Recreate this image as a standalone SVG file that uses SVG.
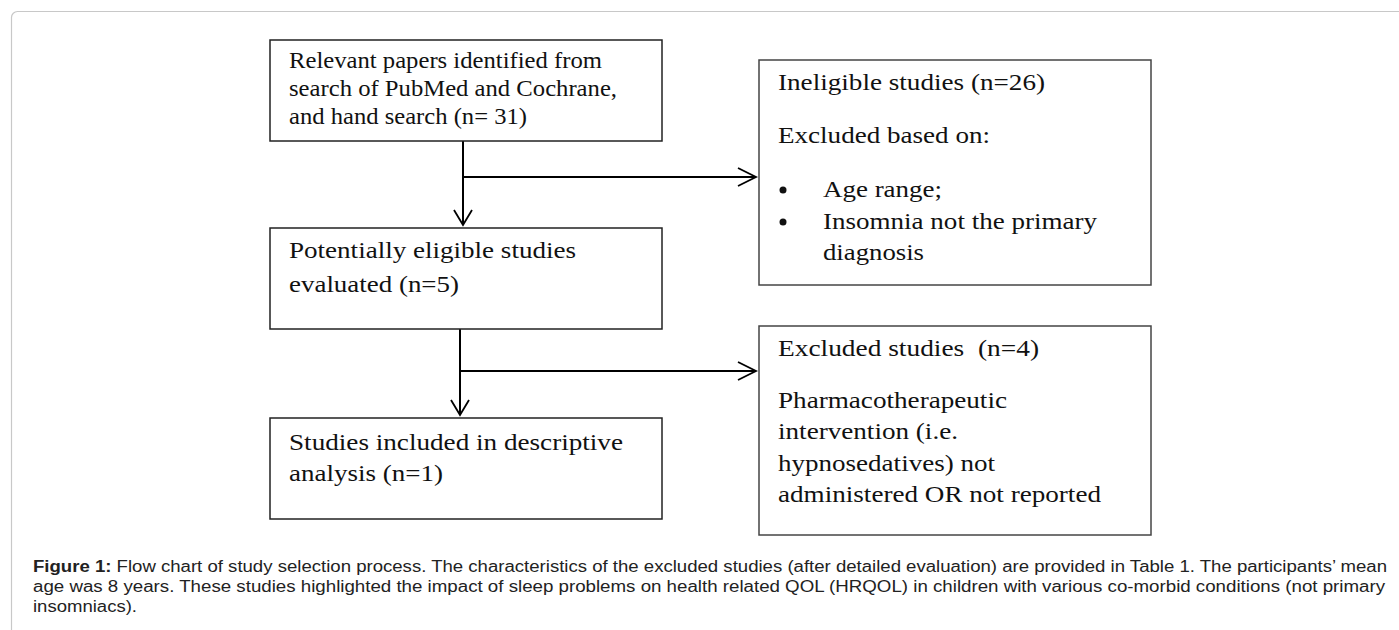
<svg xmlns="http://www.w3.org/2000/svg" width="1399" height="630" viewBox="0 0 1399 630">
<style>
.box{fill:#fff;stroke:#222;stroke-width:1.5}
.boxr{fill:#fff;stroke:#444;stroke-width:1.5}
.t{font-family:"Liberation Serif","Times New Roman",serif;font-size:24px;fill:#111}
.cap{font-family:"Liberation Sans",Arial,sans-serif;font-size:16px;fill:#222}
.ln{fill:none;stroke:#000;stroke-width:2}
.ah{fill:none;stroke:#000;stroke-width:1.8}
</style>
<rect width="1399" height="630" fill="#fff"/>
<rect x="11.5" y="11.5" width="1420" height="660" rx="6" fill="none" stroke="#c8c8c8" stroke-width="1.2"/>
<g id="connectors">
<path class="ln" d="M463 141V224M463 177H755"/>
<path class="ah" d="M454 210L463 225L472 210M738 168L756 177L738 186"/>
<path class="ln" d="M460 329V414M460 371H755"/>
<path class="ah" d="M451 400L460 415L469 400M738 362L756 371L738 380"/>
</g>
<g id="n1">
<rect class="box" x="270" y="40" width="392" height="101"/>
<text class="t" x="289" y="68" textLength="313" lengthAdjust="spacingAndGlyphs">Relevant papers identified from</text>
<text class="t" x="289" y="96" textLength="328" lengthAdjust="spacingAndGlyphs">search of PubMed and Cochrane,</text>
<text class="t" x="289" y="124" textLength="238" lengthAdjust="spacingAndGlyphs">and hand search (n= 31)</text>
</g>
<g id="n2">
<rect class="box" x="270" y="228" width="392" height="101"/>
<text class="t" x="289" y="258" textLength="287" lengthAdjust="spacingAndGlyphs">Potentially eligible studies</text>
<text class="t" x="289" y="292" textLength="170" lengthAdjust="spacingAndGlyphs">evaluated (n=5)</text>
</g>
<g id="n3">
<rect class="box" x="270" y="418" width="392" height="101"/>
<text class="t" x="289" y="450" textLength="334" lengthAdjust="spacingAndGlyphs">Studies included in descriptive</text>
<text class="t" x="289" y="481" textLength="154" lengthAdjust="spacingAndGlyphs">analysis (n=1)</text>
</g>
<g id="n4">
<rect class="boxr" x="759" y="60" width="392" height="225"/>
<circle cx="783" cy="190" r="3.5" fill="#111"/>
<circle cx="783" cy="222" r="3.5" fill="#111"/>
<text class="t" x="778" y="90" textLength="267" lengthAdjust="spacingAndGlyphs">Ineligible studies (n=26)</text>
<text class="t" x="778" y="143" textLength="212" lengthAdjust="spacingAndGlyphs">Excluded based on:</text>
<text class="t" x="823" y="197" textLength="119" lengthAdjust="spacingAndGlyphs">Age range;</text>
<text class="t" x="823" y="229" textLength="274" lengthAdjust="spacingAndGlyphs">Insomnia not the primary</text>
<text class="t" x="823" y="260" textLength="101" lengthAdjust="spacingAndGlyphs">diagnosis</text>
</g>
<g id="n5">
<rect class="boxr" x="759" y="326" width="392" height="209"/>
<text class="t" x="778" y="356" textLength="261" lengthAdjust="spacingAndGlyphs" style="white-space:pre">Excluded studies  (n=4)</text>
<text class="t" x="778" y="408" textLength="229" lengthAdjust="spacingAndGlyphs">Pharmacotherapeutic</text>
<text class="t" x="778" y="439" textLength="180" lengthAdjust="spacingAndGlyphs">intervention (i.e.</text>
<text class="t" x="778" y="471" textLength="217" lengthAdjust="spacingAndGlyphs">hypnosedatives) not</text>
<text class="t" x="778" y="502" textLength="323" lengthAdjust="spacingAndGlyphs">administered OR not reported</text>
</g>
<g id="caption">
<text class="cap" x="33" y="572" textLength="1354" lengthAdjust="spacingAndGlyphs"><tspan font-weight="bold">Figure 1:</tspan> Flow chart of study selection process. The characteristics of the excluded studies (after detailed evaluation) are provided in Table 1. The participants’ mean</text>
<text class="cap" x="33" y="592" textLength="1352" lengthAdjust="spacingAndGlyphs">age was 8 years. These studies highlighted the impact of sleep problems on health related QOL (HRQOL) in children with various co-morbid conditions (not primary</text>
<text class="cap" x="33" y="612" textLength="104" lengthAdjust="spacingAndGlyphs">insomniacs).</text>
</g>
</svg>
